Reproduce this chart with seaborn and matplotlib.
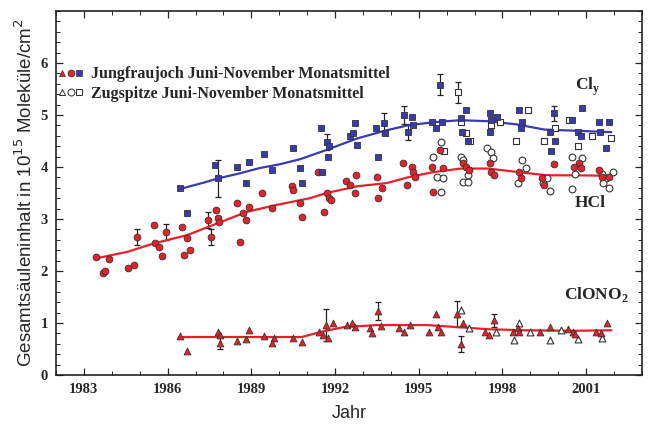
import numpy as np
import pandas as pd
import seaborn as sns
import matplotlib
matplotlib.use("Agg")
import matplotlib.pyplot as plt
from matplotlib.lines import Line2D
from matplotlib.legend_handler import HandlerTuple
from matplotlib.ticker import MultipleLocator

# ---------------- data ----------------
hcl_jfj_year = [1983.43, 1983.7, 1983.75, 1983.9, 1984.57, 1984.8, 1984.9, 1985.5, 1985.54, 1985.7,
                1985.8, 1985.93, 1986.5, 1986.6, 1986.7, 1986.8, 1987.46, 1987.57, 1987.75, 1987.8,
                1987.85, 1988.5, 1988.6, 1988.7, 1988.8, 1988.9, 1989.4, 1989.75, 1990.45, 1990.5,
                1990.75, 1990.8, 1991.4, 1991.6, 1991.7, 1991.8, 1991.85, 1992.4, 1992.55, 1992.75,
                1992.7, 1993.5, 1993.7, 1993.55, 1994.43, 1994.75, 1994.8, 1994.57, 1994.86, 1995.46,
                1995.5, 1995.75, 1995.86, 1996.57, 1996.7, 1996.8, 1997.6, 1997.7, 1997.55, 1998.6,
                1998.68, 1999.43, 1999.5, 1999.86, 2000.75, 2000.57, 2000.82, 2001.46, 2001.55, 2001.8]
hcl_jfj_val = [2.27, 1.96, 2.0, 2.23, 2.06, 2.12, 2.65, 2.88, 2.54, 2.46,
               2.29, 2.75, 2.85, 2.31, 2.64, 2.4, 2.98, 2.65, 3.17, 3.02,
               2.95, 3.31, 2.56, 3.12, 2.98, 3.23, 3.5, 3.21, 3.63, 3.55,
               3.31, 3.04, 3.9, 3.13, 3.5, 3.4, 3.37, 3.73, 3.65, 3.85,
               3.5, 3.81, 3.6, 3.4, 4.08, 4.0, 3.9, 3.65, 3.8, 4.0,
               3.52, 4.33, 3.98, 4.08, 4.0, 3.94, 3.9, 3.85, 4.08, 3.9,
               3.79, 3.79, 3.65, 4.06, 4.08, 4.0, 3.98, 3.94, 3.81, 3.81]
hcl_zug_year = [1995.5, 1995.8, 1995.65, 1995.86, 1995.8, 1996.5, 1996.6, 1996.75, 1996.6, 1996.75,
                1997.45, 1997.6, 1997.65, 1998.71, 1998.86, 1998.55, 1999.6, 1999.7, 1999.45, 2000.5,
                2000.86, 2000.6, 2000.5, 2001.57, 2001.7, 2001.8, 2001.6, 2001.95]
hcl_zug_val = [4.2, 4.48, 3.8, 3.78, 3.52, 4.2, 4.13, 3.85, 3.72, 3.72,
               4.37, 4.29, 4.17, 4.13, 3.98, 3.7, 3.78, 3.54, 3.7, 4.2,
               4.17, 3.87, 3.58, 3.87, 3.78, 3.6, 3.7, 3.9]

cly_jfj_year = [1986.46, 1986.7, 1987.7, 1987.8, 1988.5, 1988.8, 1988.9, 1989.45, 1989.75, 1990.5,
                1990.75, 1990.8, 1991.5, 1991.7, 1991.8, 1991.75, 1991.55, 1992.55, 1992.7, 1992.65,
                1992.8, 1993.55, 1993.45, 1993.75, 1993.8, 1994.46, 1994.6, 1994.75, 1994.8, 1995.46,
                1995.6, 1995.75, 1995.85, 1996.5, 1996.7, 1996.55, 1996.75, 1997.55, 1997.6, 1997.8,
                1997.55, 1998.6, 1998.7, 1998.65, 1999.7, 1999.86, 1999.9, 1999.75, 2000.5, 2000.86,
                2000.7, 2000.8, 2001.46, 2001.8, 2001.7, 2001.5]
cly_jfj_val = [3.6, 3.11, 4.04, 3.78, 4.0, 3.7, 4.1, 4.25, 3.94, 4.37,
               3.98, 3.7, 4.75, 4.48, 4.4, 4.2, 3.9, 4.6, 4.85, 4.65,
               4.42, 4.2, 4.75, 4.84, 4.65, 5.0, 4.67, 4.96, 4.8, 4.87,
               4.75, 5.58, 4.87, 4.94, 5.1, 4.67, 4.5, 5.03, 4.9, 4.96,
               4.67, 5.1, 4.87, 4.75, 4.67, 5.03, 4.5, 4.3, 4.9, 5.13,
               4.67, 4.6, 4.87, 4.87, 4.37, 4.67]
cly_zug_year = [1995.9, 1996.4, 1996.5, 1996.7, 1996.85, 1997.6, 1997.9, 1998.5, 1998.9, 1999.5,
                1999.9, 2000.4, 2000.7, 2001.2, 2001.9]
cly_zug_val = [4.3, 5.44, 4.87, 4.65, 4.5, 4.8, 4.87, 4.5, 5.1, 4.5,
               4.75, 4.9, 4.4, 4.6, 4.55]

clono2_jfj_year = [1986.46, 1986.7, 1987.8, 1987.86, 1987.86, 1988.5, 1988.8, 1988.9, 1989.46, 1989.8,
                   1989.75, 1990.5, 1990.8, 1991.43, 1991.57, 1991.75, 1991.68, 1991.93, 1992.43, 1992.6,
                   1992.7, 1993.25, 1993.33, 1993.54, 1993.65, 1994.29, 1994.46, 1994.68, 1995.36, 1995.6,
                   1995.68, 1995.79, 1996.36, 1996.6, 1996.5, 1997.36, 1997.5, 1997.68, 1998.36, 1998.54,
                   1998.6, 1999.36, 1999.7, 2000.36, 2000.54, 2000.6, 2001.36, 2001.54, 2001.75]
clono2_jfj_val = [0.75, 0.47, 0.83, 0.77, 0.62, 0.66, 0.69, 0.87, 0.75, 0.71,
                  0.62, 0.71, 0.63, 0.83, 0.77, 0.71, 0.96, 1.0, 0.96, 1.0,
                  0.92, 0.9, 0.81, 1.23, 0.94, 0.9, 0.83, 0.96, 0.83, 1.17,
                  0.92, 0.83, 1.17, 1.0, 0.6, 0.83, 0.77, 1.05, 0.83, 0.9,
                  0.83, 0.83, 0.92, 0.88, 0.83, 0.78, 0.83, 0.81, 1.0]
clono2_zug_year = [1996.5, 1996.8, 1997.75, 1998.6, 1998.4, 1999.7, 2000.7, 2001.57, 1999.0, 2000.1]
clono2_zug_val = [1.25, 0.9, 0.83, 1.0, 0.67, 0.67, 0.7, 0.72, 0.83, 0.86]

# error bars (selected monthly means)
err_year = [1984.9, 1985.93, 1987.46, 1987.57, 1987.8, 1991.7, 1993.75, 1994.46, 1994.6, 1995.75,
            1996.4, 1999.86, 1991.68, 1993.54, 1996.36, 1996.5, 1987.86, 1997.68]
err_val = [2.65, 2.75, 2.98, 2.65, 3.78, 4.48, 4.84, 5.0, 4.67, 5.58,
           5.44, 5.03, 0.96, 1.23, 1.17, 0.6, 0.62, 1.05]
err_size = [0.15, 0.15, 0.15, 0.15, 0.36, 0.15, 0.2, 0.18, 0.15, 0.2,
            0.2, 0.15, 0.3, 0.17, 0.25, 0.15, 0.12, 0.12]

# smooth fits
cly_fit_year = [1986.46, 1987.3, 1987.8, 1988.6, 1989.3, 1990.0, 1990.75, 1991.7, 1992.8, 1993.8,
                1994.6, 1995.5, 1996.5, 1997.5, 1998.5, 1999.5, 2000.5, 2001.9]
cly_fit_val = [3.58, 3.7, 3.78, 3.88, 3.98, 4.05, 4.15, 4.33, 4.55, 4.7,
               4.8, 4.86, 4.9, 4.88, 4.82, 4.72, 4.7, 4.67]
hcl_fit_year = [1983.5, 1984.57, 1985.5, 1986.7, 1987.8, 1988.85, 1989.9, 1991.1, 1991.7, 1992.8,
                1993.85, 1994.6, 1995.5, 1996.5, 1997.5, 1998.6, 1999.6, 2000.7, 2001.9]
hcl_fit_val = [2.25, 2.37, 2.53, 2.69, 2.92, 3.14, 3.27, 3.4, 3.5, 3.63,
               3.69, 3.8, 3.9, 3.97, 3.97, 3.9, 3.84, 3.84, 3.83]
clono2_fit_year = [1986.4, 1989.3, 1990.8, 1991.5, 1992.3, 1993.5, 1995.3, 1996.4, 1997.5, 1998.8,
                   2000.5, 2001.9]
clono2_fit_val = [0.73, 0.73, 0.73, 0.83, 0.92, 0.96, 0.96, 0.92, 0.88, 0.86, 0.85, 0.86]

x_ticks = [1983, 1986, 1989, 1992, 1995, 1998, 2001]
y_ticks = [0, 1, 2, 3, 4, 5, 6]

# ---------------- style ----------------
sns.set_style("ticks")
plt.rcParams['font.family'] = ['Liberation Serif', 'DejaVu Serif']

RED = "#e8202a"
BLUE = "#3a3ab0"
fig = plt.figure(figsize=(6.49, 4.30), dpi=100)
ax = fig.add_axes([56/649, 1 - 375/430, (642 - 56)/649, (375 - 11)/430])

# fits
sns.lineplot(x=cly_fit_year, y=cly_fit_val, ax=ax, color=BLUE, lw=1.6, zorder=2)
sns.lineplot(x=hcl_fit_year, y=hcl_fit_val, ax=ax, color=RED, lw=1.6, zorder=2)
sns.lineplot(x=clono2_fit_year, y=clono2_fit_val, ax=ax, color=RED, lw=1.6, zorder=2)

# error bars
ax.errorbar(err_year, err_val, yerr=err_size, fmt='none', ecolor='#222222',
            elinewidth=0.9, capsize=2.5, capthick=0.9, zorder=1)

ms = 24
kw_f = dict(edgecolor='#333333', linewidth=0.6, zorder=3, legend=False)
kw_o = dict(color='white', edgecolor='#333333', linewidth=0.8, zorder=3, legend=False)

sns.scatterplot(x=hcl_zug_year, y=hcl_zug_val, marker='o', s=ms, ax=ax, **kw_o)
sns.scatterplot(x=cly_zug_year, y=cly_zug_val, marker='s', s=ms, ax=ax, **kw_o)
sns.scatterplot(x=clono2_zug_year, y=clono2_zug_val, marker='^', s=ms, ax=ax, **kw_o)
sns.scatterplot(x=hcl_jfj_year, y=hcl_jfj_val, marker='o', s=ms, color=RED, ax=ax, **kw_f)
sns.scatterplot(x=cly_jfj_year, y=cly_jfj_val, marker='s', s=ms, color=BLUE, ax=ax, **kw_f)
sns.scatterplot(x=clono2_jfj_year, y=clono2_jfj_val, marker='^', s=ms, color=RED, ax=ax, **kw_f)

ax.set_xlim(1982.0, 2003.0)
ax.set_ylim(0, 7)
ax.set_xticks(x_ticks)
ax.set_yticks(y_ticks)
ax.xaxis.set_minor_locator(MultipleLocator(1))
ax.yaxis.set_minor_locator(MultipleLocator(0.2))
ax.tick_params(which='both', direction='in', top=True, right=True, labelsize=10.5, pad=6)
ax.tick_params(which='major', length=5, width=0.9)
ax.tick_params(which='minor', length=3, width=0.7)
for lab in ax.get_xticklabels() + ax.get_yticklabels():
    lab.set_fontweight('bold')
for sp in ax.spines.values():
    sp.set_linewidth(1.2)
    sp.set_color('#222222')

ax.set_xlabel("Jahr", family=['Liberation Sans', 'DejaVu Sans'], fontsize=13, labelpad=6)
ax.set_ylabel("Gesamtsäuleninhalt in 10$^{15}$ Moleküle/cm$^2$",
              family=['Liberation Sans', 'DejaVu Sans'], fontsize=13.5, labelpad=3)

# species labels
ax.text(2000.6, 5.55, "Cl$_\\mathregular{y}$", fontsize=12.5, fontweight='bold', ha='left', va='center')
ax.text(2000.6, 3.3, "HCl", fontsize=12.5, fontweight='bold', ha='left', va='center')
ax.text(2000.2, 1.55, "ClONO$_\\mathregular{2}$", fontsize=12.5, fontweight='bold', ha='left', va='center')

# legend
h_tri = Line2D([], [], marker='^', ls='none', color=RED, mec='#333333', mew=0.5, ms=5)
h_cir = Line2D([], [], marker='o', ls='none', color=RED, mec='#333333', mew=0.5, ms=5)
h_sq = Line2D([], [], marker='s', ls='none', color=BLUE, mec='#333333', mew=0.5, ms=5)
o_tri = Line2D([], [], marker='^', ls='none', mfc='white', mec='#333333', mew=0.7, ms=5)
o_cir = Line2D([], [], marker='o', ls='none', mfc='white', mec='#333333', mew=0.7, ms=5)
o_sq = Line2D([], [], marker='s', ls='none', mfc='white', mec='#333333', mew=0.7, ms=5)
leg = ax.legend([(h_tri, h_cir, h_sq), (o_tri, o_cir, o_sq)],
                ["Jungfraujoch Juni-November Monatsmittel", "Zugspitze Juni-November Monatsmittel"],
                handler_map={tuple: HandlerTuple(ndivide=None, pad=0.05)},
                loc='upper left', bbox_to_anchor=(0.003, 0.848), frameon=False,
                borderpad=0, borderaxespad=0,
                handlelength=1.6, handletextpad=0.5, labelspacing=0.2,
                prop={'family': 'Liberation Serif', 'weight': 'bold', 'size': 11.5})

fig.savefig("out.png", dpi=100)
